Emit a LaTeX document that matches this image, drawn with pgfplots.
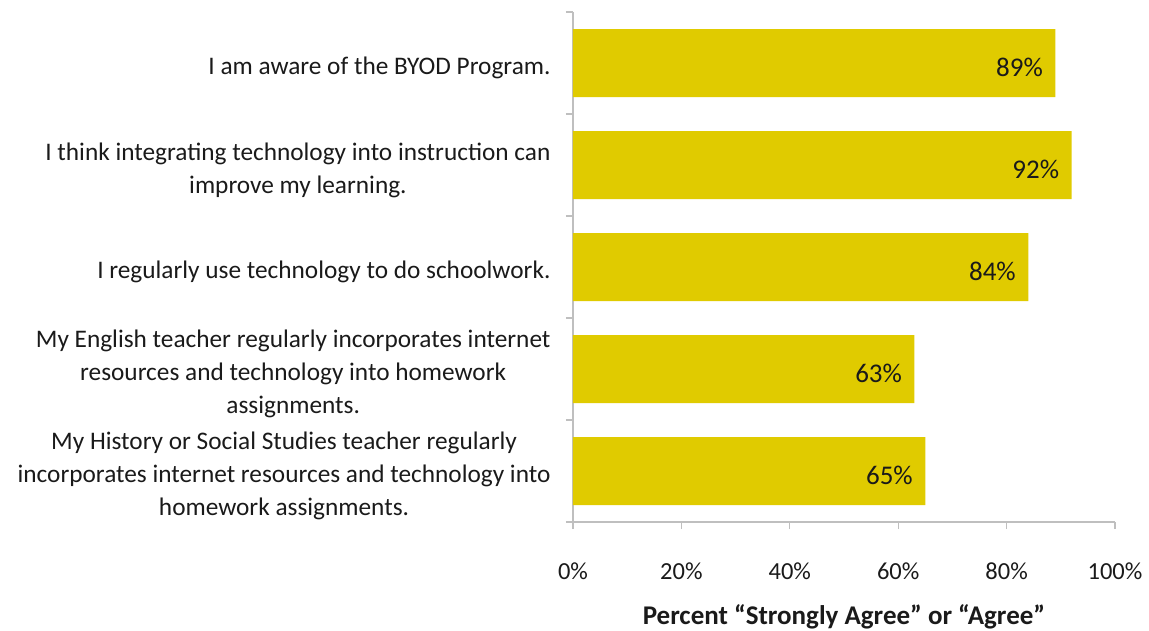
\documentclass[border=0pt]{standalone}
\usepackage{pgfplots}
\pgfplotsset{compat=1.18}
\usepackage{fontspec}
\setmainfont{Carlito}
\definecolor{bargold}{HTML}{E0CB00}
\definecolor{axisgray}{HTML}{BFBFBF}
\definecolor{txt}{HTML}{1A1A1A}
\begin{document}
\begin{tikzpicture}[x=1pt,y=1pt]
\begin{axis}[
  at={(0,0)}, anchor=south west,
  scale only axis,
  width=542pt, height=510pt,
  xbar, bar width=68pt,
  xmin=0, xmax=100,
  ymin=-0.5, ymax=4.5,
  y dir=reverse,
  axis x line*=bottom, axis y line*=left,
  axis line style={axisgray, line width=1.2pt},
  tick align=outside,
  major tick length=7pt, minor tick length=7pt,
  tick style={axisgray, line width=1.2pt},
  major y tick style={draw=none},
  /pgf/number format/assume math mode=true,
  xtick={0,20,...,100},
  xticklabel={\pgfmathprintnumber{\tick}\%},
  xticklabel style={font=\fontsize{24.5}{28}\selectfont, text=txt, yshift=-30pt},
  ytick={0,1,2,3,4},
  minor ytick={-0.5,0.5,1.5,2.5,3.5,4.5},
  yticklabels={
    {I am aware of the BYOD Program.},
    {I think integrating technology into instruction can\\improve my learning.},
    {I regularly use technology to do schoolwork.},
    {My English teacher regularly incorporates internet\\resources and technology into homework\\assignments.},
    {My History or Social Studies teacher regularly\\incorporates internet resources and technology into\\homework assignments.}},
  yticklabel style={font=\fontsize{25.3}{33}\selectfont, text=txt, align=center, anchor=east, xshift=-12pt, yshift=-5pt},
  xlabel={\textbf{Percent “Strongly Agree” or “Agree”}},
  xlabel style={font=\fontsize{27}{30}\selectfont, text=txt, yshift=-18pt},
  nodes near coords={\pgfmathprintnumber{\pgfplotspointmeta}\%},
  nodes near coords style={font=\fontsize{27}{30}\selectfont, text=txt, anchor=east, xshift=-9pt, yshift=-4pt},
  point meta=explicit,
  clip=false,
]
\addplot[fill=bargold, draw=none] coordinates {
  (89,0) [89]
  (92,1) [92]
  (84,2) [84]
  (63,3) [63]
  (65,4) [65]
};
\end{axis}
\pgfresetboundingbox
\path[use as bounding box] (-573pt,-108pt) rectangle (576pt,522pt);
\end{tikzpicture}
\end{document}
